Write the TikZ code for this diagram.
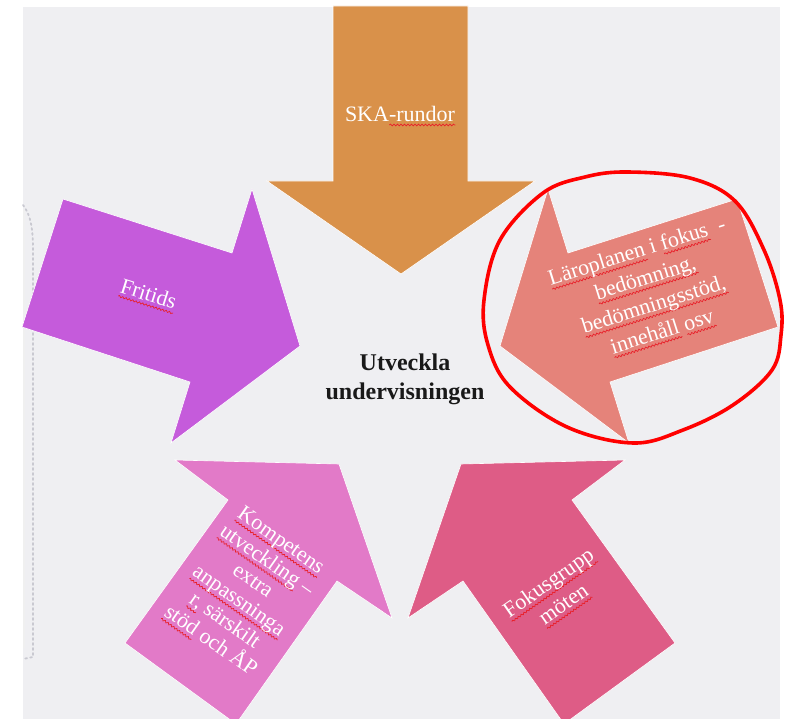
\documentclass[tikz,border=0pt]{standalone}
\usepackage{fontspec}
\setmainfont{Liberation Serif}
\usetikzlibrary{decorations.pathmorphing}
\definecolor{bggray}{HTML}{EFEFF2}
\definecolor{cOrange}{HTML}{D9914A}
\definecolor{cPurple}{HTML}{C55BDB}
\definecolor{cSalmon}{HTML}{E5837A}
\definecolor{cPink}{HTML}{E27AC8}
\definecolor{cRose}{HTML}{DE5C86}
\definecolor{spell}{HTML}{E8202A}
\definecolor{dotgray}{HTML}{C9C9D1}
\newsavebox\sqbox
\newdimen\sqw
\newcommand\sq[1]{\sbox\sqbox{#1}\sqw=\wd\sqbox\rlap{\tikz[baseline=0pt, reset cm]\draw[spell, line width=0.7pt, decorate, decoration={snake, amplitude=0.9pt, segment length=3.5pt}] (0pt,-4pt) -- (\sqw,-4pt);}\usebox\sqbox}
\tikzset{
  arrowshape/.style={draw=white, line width=0.6pt, line join=miter},
  armtext/.style={text=white, align=center, inner sep=0pt, font=\fontsize{22}{28}\selectfont},
  maintext/.style={text=black!90, align=center, inner sep=0pt, font=\fontsize{24}{29}\selectfont\bfseries},
}
\begin{document}
\begin{tikzpicture}[x=1pt, y=-1pt]
\useasboundingbox (0,0) rectangle (787,719);
\fill[white] (0,0) rectangle (787,719);
\fill[bggray] (23,7) rectangle (780,719);
% faint left guide
\draw[color=black!6, line width=1.5pt] (24,210) -- (24,648);
\draw[dotgray, line width=1.8pt, dash pattern=on 1.8pt off 3.2pt, line cap=round]
  (23,205) .. controls (31,215) and (33,230) .. (33,250) -- (33,657) -- (23,659);
\begin{scope}
\clip (0,0) rectangle (787,719);
% SKA-rundor (down)
\filldraw[arrowshape, fill=cOrange] (333,6) -- (468,6) -- (468,181) -- (535,181) -- (401,274) -- (267,181) -- (333,181) -- cycle;
% Fritids (right-down)
\filldraw[arrowshape, fill=cPurple] (63,199) -- (232,253) -- (252,189) -- (300,346) -- (171,443) -- (190,382) -- (22,327) -- cycle;
% Laroplanen (left-down)
\filldraw[arrowshape, fill=cSalmon] (737,199) -- (568,253) -- (548,189) -- (500,346) -- (629,443) -- (610,382) -- (778,327) -- cycle;
% Kompetens (up-right)
\filldraw[arrowshape, fill=cPink] (125,643) -- (228,500) -- (175,460) -- (339,464) -- (392,618) -- (337,581) -- (236,724) -- cycle;
% Fokusgrupp (up-left)
\filldraw[arrowshape, fill=cRose] (675,643) -- (572,500) -- (625,460) -- (461,464) -- (408,618) -- (463,581) -- (564,724) -- cycle;
\end{scope}
% red hand-drawn ellipse
\draw[red, line width=3.6pt, line join=round] plot[smooth cycle, tension=0.6] coordinates {
  (627,172) (690,178) (735,201) (764,250) (780,300) (781,335) (772,370) (733,405) (683,430) (633,443)
  (567,427) (510,387) (488,345) (484,300) (500,240) (543,193) (585,177)};
% texts
\node[maintext] (center) at (405,379) {Utveckla\\undervisningen};
\node[armtext] (ska) at (400,116) {SKA\sq{-rundor}};
\node[armtext, rotate=-17.5] (fritids) at (148,296) {\sq{Fritids}};
\node[armtext, rotate=17.5] (laro) at (650,293) {\sq{Läroplanen} i \sq{fokus}~ -\\\sq{bedömning,}\\\sq{bedömningsstöd,}\\\sq{innehåll} \sq{osv}};
\node[armtext, rotate=-35, font=\fontsize{22}{24.5}\selectfont] (komp) at (245,592) {\sq{Kompetens}\\\sq{utveckling} –\\extra\\\sq{anpassninga}\\\sq{r,} särskilt\\\sq{stöd} och ÅP};
\node[armtext, rotate=35, font=\fontsize{22}{26}\selectfont] (fokus) at (557,595) {\sq{Fokusgrupp}\\\sq{möten}};
\end{tikzpicture}
\end{document}
